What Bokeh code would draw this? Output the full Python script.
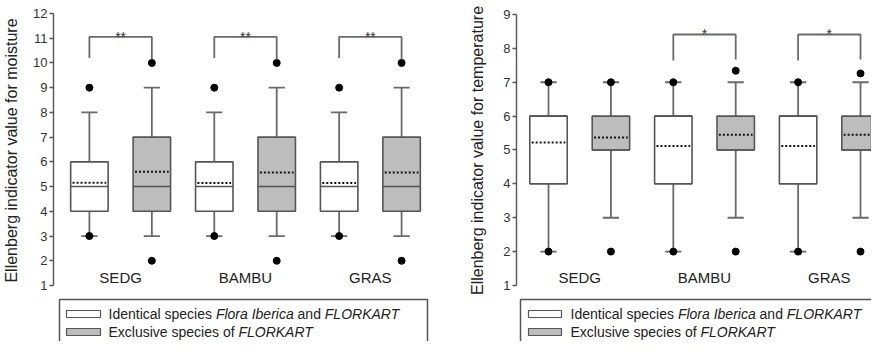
from bokeh.plotting import figure
from bokeh.layouts import column, row
from bokeh.models import Range1d, FixedTicker
from bokeh.core.properties import value
from bokeh.embed import file_html
from bokeh.resources import INLINE

FONT = "Liberation Sans"

# ---------------- data ----------------
groups = ["SEDG", "BAMBU", "GRAS"]
series_names = ["Identical", "Exclusive"]  # per group: identical, exclusive
box_fill = ["#ffffff", "#bdbdbd"]

# order: SEDG-ident, SEDG-excl, BAMBU-ident, BAMBU-excl, GRAS-ident, GRAS-excl
moist_lo = [3, 3, 3, 3, 3, 3]
moist_q1 = [4, 4, 4, 4, 4, 4]
moist_med = [5, 5, 5, 5, 5, 5]
moist_q3 = [6, 7, 6, 7, 6, 7]
moist_hi = [8, 9, 8, 9, 8, 9]
moist_mean = [5.15, 5.60, 5.14, 5.57, 5.14, 5.57]
moist_out_low = [3, 2, 3, 2, 3, 2]
moist_out_high = [9, 10, 9, 10, 9, 10]
moist_sig = ["**", "**", "**"]

temp_lo = [2, 3, 2, 3, 2, 3]
temp_q1 = [4, 5, 4, 5, 4, 5]
temp_med = [6, 5, 6, 5, 6, 5]
temp_q3 = [6, 6, 6, 6, 6, 6]
temp_hi = [7, 7, 7, 7, 7, 7]
temp_mean = [5.22, 5.37, 5.12, 5.45, 5.12, 5.45]
temp_out_low = [2, 2, 2, 2, 2, 2]
temp_out_high = [7, 7, 7, 7.34, 7, 7.26]
temp_sig = ["", "*", "*"]

moist_ticks = list(range(1, 13))
temp_ticks = list(range(1, 10))

legend_rows = [
    [("Identical species", "normal"), ("Flora Iberica", "italic"), ("and", "normal"), ("FLORKART", "italic")],
    [("Exclusive species of", "normal"), ("FLORKART", "italic")],
]

# Arial / Liberation Sans advance widths (per 1000 em)
AW = {" ": 278, "I": 278, "d": 556, "e": 556, "n": 556, "t": 278, "i": 222, "c": 500, "a": 556,
      "l": 222, "s": 500, "p": 556, "F": 611, "o": 556, "r": 333, "b": 556, "L": 556, "O": 778,
      "R": 722, "K": 667, "A": 667, "T": 611, "E": 667, "x": 500, "u": 556, "v": 500, "f": 278}


def text_w(s, size):
    return sum(AW.get(ch, 556) for ch in s) * size / 1000.0


def panel(width, border_left, x_rng, y_rng, ticks, title, standoff,
          lo, q1, med, q3, hi, mean, out_low, out_high, sig,
          br_y, leg_l, leg_r, label_y):
    p = figure(width=width, height=297, output_backend="svg", toolbar_location=None,
               x_range=Range1d(*x_rng), y_range=Range1d(*y_rng),
               x_axis_location=None, min_border_left=border_left, min_border_right=0,
               min_border_top=8, min_border_bottom=5)
    p.outline_line_color = None
    p.xgrid.visible = False
    p.ygrid.visible = False
    p.background_fill_color = "white"
    ax = p.yaxis[0]
    ax.ticker = FixedTicker(ticks=ticks)
    ax.bounds = (ticks[0], ticks[-1])
    ax.axis_line_color = "#555555"
    ax.axis_line_width = 1.4
    ax.major_tick_line_color = "#555555"
    ax.major_tick_line_width = 1.4
    ax.major_tick_in = 0
    ax.major_tick_out = 4
    ax.minor_tick_line_color = None
    ax.major_label_standoff = 2
    ax.major_label_text_font = FONT
    ax.major_label_text_font_size = "13px"
    ax.major_label_text_color = "#333333"
    ax.axis_label = title
    ax.axis_label_text_font = FONT
    ax.axis_label_text_font_size = "16px"
    ax.axis_label_text_font_style = "normal"
    ax.axis_label_text_color = "#222222"
    ax.axis_label_standoff = standoff

    xs = list(range(len(q1)))
    fills = [box_fill[i % 2] for i in xs]
    half = 0.30
    cap = 0.13
    wc = "#6a6a6a"
    # whiskers
    p.segment(x0=xs, y0=lo, x1=xs, y1=q1, line_color=wc, line_width=1.8)
    p.segment(x0=xs, y0=q3, x1=xs, y1=hi, line_color=wc, line_width=1.8)
    p.segment(x0=[x - cap for x in xs], y0=lo, x1=[x + cap for x in xs], y1=lo, line_color=wc, line_width=1.8)
    p.segment(x0=[x - cap for x in xs], y0=hi, x1=[x + cap for x in xs], y1=hi, line_color=wc, line_width=1.8)
    # boxes
    p.vbar(x=xs, width=2 * half, bottom=q1, top=q3, fill_color=fills,
           line_color="#555555", line_width=1.6)
    p.segment(x0=[x - half for x in xs], y0=med, x1=[x + half for x in xs], y1=med,
              line_color="#555555", line_width=1.6)
    p.segment(x0=[x - 0.27 for x in xs], y0=mean, x1=[x + 0.27 for x in xs], y1=mean,
              line_color="#111111", line_width=2, line_dash="2 2")
    # outliers
    p.scatter(x=xs + xs, y=list(out_low) + list(out_high), size=7, color="black")
    # significance brackets
    bx, by = [], []
    sx, sy, st = [], [], []
    for g, s in enumerate(sig):
        if not s:
            continue
        a, b = 2 * g, 2 * g + 1
        bx.append([a, a, b, b])
        by.append([leg_l, br_y, br_y, leg_r])
        sx.append((a + b) / 2)
        sy.append(br_y)
        st.append(s)
    p.multi_line(xs=bx, ys=by, line_color="#6a6a6a", line_width=1.8)
    p.text(x=sx, y=sy, text=st, text_align="center", text_baseline="alphabetic",
           text_font=value(FONT), text_font_size="14px", text_color="#333333")
    # group labels
    p.text(x=[2 * g + 0.5 for g in range(len(groups))], y=[label_y] * len(groups), text=groups,
           text_align="center", text_baseline="middle", text_font=value(FONT),
           text_font_size="15px", text_color="#222222")
    return p


pL = panel(432, 52, (-0.575, 5.495), (0.717, 12.2), moist_ticks,
           "Ellenberg indicator value for moisture", 10,
           moist_lo, moist_q1, moist_med, moist_q3, moist_hi, moist_mean,
           moist_out_low, moist_out_high, moist_sig, 11.05, 10.2, 10.15, 1.32)
pR = panel(439, 84, (-0.513, 5.176), (0.793, 9.177), temp_ticks,
           "Ellenberg indicator value for temperature", 14,
           temp_lo, temp_q1, temp_med, temp_q3, temp_hi, temp_mean,
           temp_out_low, temp_out_high, temp_sig, 8.41, 7.64, 7.67, 1.24)

LEG_FS = 14


def legend_fig(width, box_l, box_r, sw_l, sw_r, tx):
    f = figure(width=width, height=44, output_backend="svg", toolbar_location=None,
               x_range=Range1d(0, width), y_range=Range1d(44, 0),
               x_axis_location=None, y_axis_location=None,
               min_border=0, min_border_left=0, min_border_right=0,
               min_border_top=0, min_border_bottom=0)
    f.outline_line_color = None
    f.xgrid.visible = False
    f.ygrid.visible = False
    f.quad(left=[box_l], right=[box_r], top=[2], bottom=[70], fill_color=None,
           line_color="#555555", line_width=1.5)
    row_y = [16.5, 34.5]
    f.quad(left=[sw_l, sw_l], right=[sw_r, sw_r], top=[y - 3.5 for y in row_y],
           bottom=[y + 3.5 for y in row_y], fill_color=box_fill, line_color="#555555", line_width=1.2)
    space = text_w(" ", LEG_FS)
    for r, segs in enumerate(legend_rows):
        x = tx
        for s, style in segs:
            f.text(x=[x], y=[row_y[r]], text=[s], text_align="left", text_baseline="middle",
                   text_font=value(FONT), text_font_size=f"{LEG_FS}px", text_font_style=style,
                   text_color="#222222")
            x += text_w(s, LEG_FS) + space
    return f


lL = legend_fig(432, 59, 427, 66, 100, 108)
lR = legend_fig(439, 88, 470, 96, 129, 138)

layout = column(row(pL, pR), row(lL, lR))
open("out.html", "w").write(file_html(layout, INLINE))
